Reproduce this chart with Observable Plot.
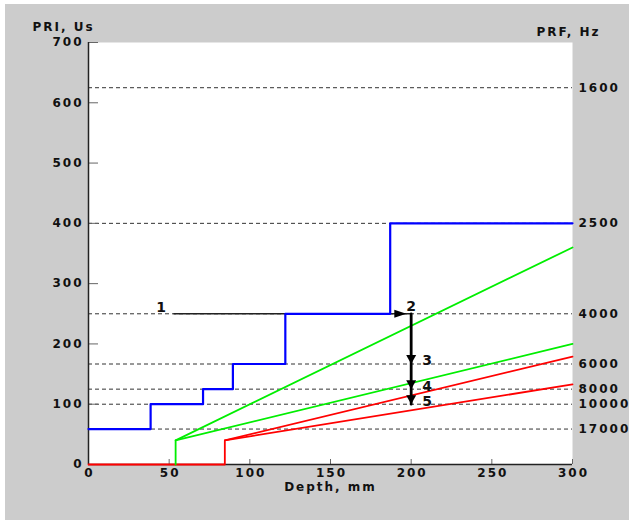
<!DOCTYPE html>
<html><head><meta charset="utf-8">
<script src="https://cdn.jsdelivr.net/npm/d3@7"></script>
<script src="https://cdn.jsdelivr.net/npm/@observablehq/plot@0.6"></script>
<style>
html,body{margin:0;padding:0;background:#fff;}
#chart{padding:4px 0 0 5px;width:624px;height:516px;}
</style></head><body><div id="chart"></div>
<script>
// Axis ticks
const priTicks = [0, 100, 200, 300, 400, 500, 600, 700];
const depthTicks = [0, 50, 100, 150, 200, 250, 300];
// Right axis: PRI level for each PRF
const prfPri = [625, 400, 250, 166.7, 125, 100, 58.8];
const prfLabels = ["1600", "2500", "4000", "6000", "8000", "10000", "17000"];
// Blue staircase
const blueDepth = [0, 38.5, 71, 89.5, 122, 187, 300];
const bluePri = [58.8, 100, 125, 166.7, 250, 400, 400];
// Green lines
const greenSeries = ["a", "a", "a", "b", "b"];
const greenDepth = [54, 54, 300, 54, 300];
const greenPri = [0, 40, 360, 40, 200];
// Red lines
const redSeries = ["a", "a", "a", "a", "b", "b"];
const redDepth = [0, 84.5, 84.5, 300, 84.5, 300];
const redPri = [0, 0, 40, 179, 40, 133];
// Black arrows
const hArrowDepth = [53, 200];
const hArrowPri = [250, 250];
const vArrowDepth = [200, 200];
const vArrowPri = [250, 100];
const headRightDepth = [197];
const headRightPri = [250];
const headDownDepth = [200, 200, 200];
const headDownPri = [166.7, 125, 100];
// Step labels
const stepLabels = ["1", "2", "3", "4", "5"];
const stepDepth = [53, 200, 200, 200, 200];
const stepPri = [250, 250, 166.7, 125, 100];

const idx = n => d3.range(n);
const prfMap = new Map(prfPri.map((p, i) => [p, prfLabels[i]]));
const triRight = {draw(c) { c.moveTo(0, 0); c.lineTo(-12, -4); c.lineTo(-12, 4); c.closePath(); }};
const triDown = {draw(c) { c.moveTo(0, 0); c.lineTo(-5, -9); c.lineTo(5, -9); c.closePath(); }};

const chart = Plot.plot({
  width: 624,
  height: 516,
  marginLeft: 83,
  marginTop: 38,
  marginRight: 57,
  marginBottom: 56,
  style: {background: "#cccccc", fontFamily: "DejaVu Sans", fontSize: "12px", fontWeight: "bold", letterSpacing: "2px", color: "#111"},
  x: {domain: [0, 300]},
  y: {domain: [0, 700]},
  marks: [
    Plot.frame({fill: "white", stroke: null}),
    Plot.ruleY(prfPri, {stroke: "#333", strokeDasharray: "4,3", strokeWidth: 1}),
    Plot.tickY(priTicks, {y: d => d, insetRight: 474, stroke: "#666"}),
    Plot.tickX(depthTicks, {x: d => d, insetTop: 417, stroke: "#666"}),
    Plot.ruleX([0], {stroke: "#222", strokeWidth: 1.5}),
    Plot.ruleY([0], {stroke: "#222", strokeWidth: 1.5}),
    Plot.axisY({ticks: priTicks, tickSize: 0, tickPadding: 5, label: null}),
    Plot.axisY({anchor: "right", ticks: prfPri, tickSize: 0, tickPadding: 6, tickFormat: d => prfMap.get(d), label: null}),
    Plot.axisX({ticks: depthTicks, tickSize: 0, tickPadding: 4, dx: 1, label: null}),
    Plot.line(idx(redDepth.length), {x: i => redDepth[i], y: i => redPri[i], z: i => redSeries[i], stroke: "#ff0000", strokeWidth: 1.8}),
    Plot.line(idx(greenDepth.length), {x: i => greenDepth[i], y: i => greenPri[i], z: i => greenSeries[i], stroke: "#00ee00", strokeWidth: 1.8}),
    Plot.line(idx(2), {x: i => hArrowDepth[i], y: i => hArrowPri[i], stroke: "#222", strokeWidth: 1.5}),
    Plot.line(idx(2), {x: i => vArrowDepth[i], y: i => vArrowPri[i], stroke: "#000", strokeWidth: 2.8}),
    Plot.line(idx(blueDepth.length), {x: i => blueDepth[i], y: i => bluePri[i], curve: "step-after", stroke: "#0000ff", strokeWidth: 2.2}),
    Plot.dot(idx(headRightDepth.length), {x: i => headRightDepth[i], y: i => headRightPri[i], symbol: triRight, fill: "#000", stroke: "none"}),
    Plot.dot(idx(headDownDepth.length), {x: i => headDownDepth[i], y: i => headDownPri[i], symbol: triDown, fill: "#000", stroke: "none"}),
    Plot.text([0], {x: stepDepth[0], y: stepPri[0], text: () => stepLabels[0], dx: -12, dy: -6, fontSize: 14, fontWeight: "bold"}),
    Plot.text([1], {x: stepDepth[1], y: stepPri[1], text: () => stepLabels[1], dx: 1, dy: -7, fontSize: 14, fontWeight: "bold"}),
    Plot.text(idx(3), {x: i => stepDepth[i + 2], y: i => stepPri[i + 2], text: i => stepLabels[i + 2], dx: 17, dy: -3, fontSize: 14, fontWeight: "bold"}),
    Plot.text(["PRI, Us"], {frameAnchor: "top-left", text: d => d, dx: -56, dy: -20, textAnchor: "start", letterSpacing: 3}),
    Plot.text(["PRF, Hz"], {frameAnchor: "top-right", text: d => d, dx: -36, dy: -15, textAnchor: "start", letterSpacing: 3.5}),
    Plot.text(["Depth, mm"], {frameAnchor: "bottom", text: d => d, dy: 26, letterSpacing: 2.5})
  ]
});
document.getElementById("chart").append(chart);
</script></body></html>
